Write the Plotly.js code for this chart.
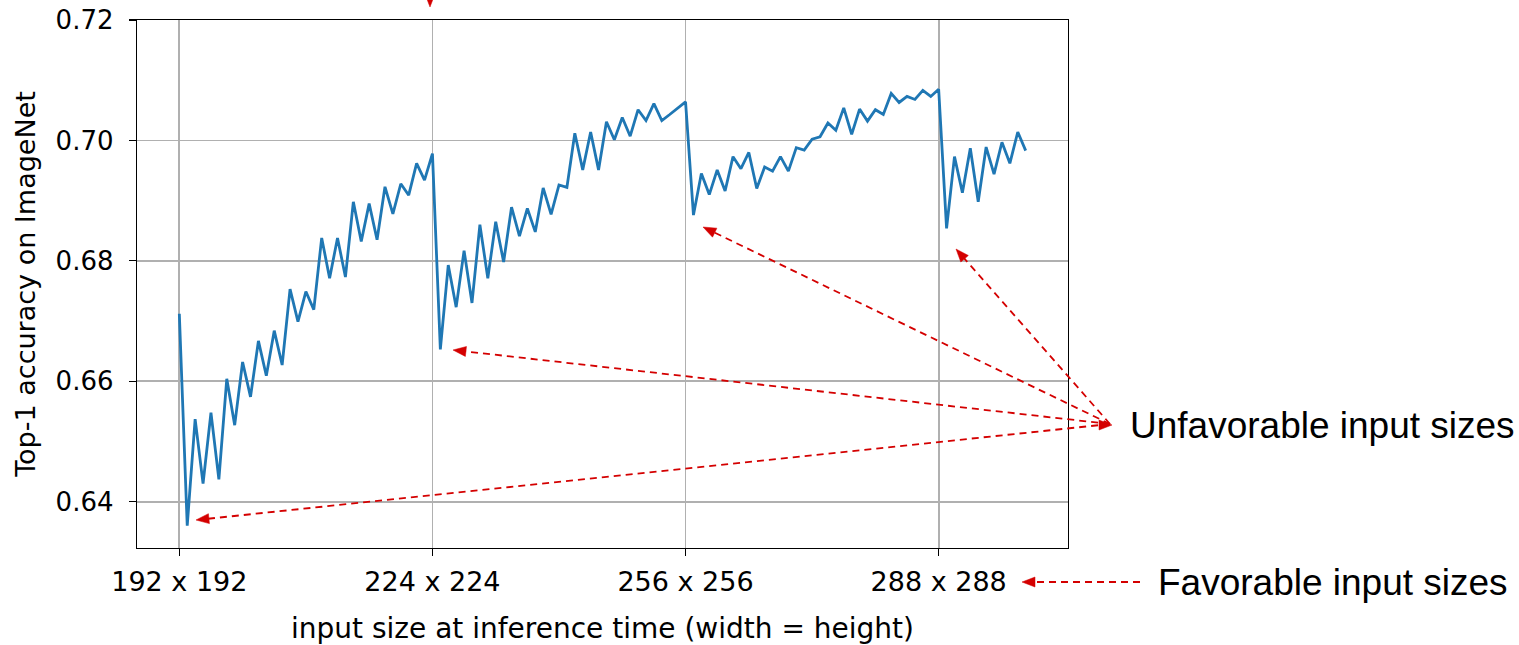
<!DOCTYPE html>
<html>
<head>
<meta charset="utf-8">
<script src="https://cdn.plot.ly/plotly-3.0.1.min.js"></script>
<style>html,body{margin:0;padding:0;background:#fff;}#chart{width:1519px;height:645px;}</style>
</head>
<body>
<div id="chart"></div>
<script>
const inputSizes = [192,193,194,195,196,197,198,199,200,201,202,203,204,205,206,207,208,209,210,211,212,213,214,215,216,217,218,219,220,221,222,223,
224,225,226,227,228,229,230,231,232,233,234,235,236,237,238,239,240,241,242,243,244,245,246,247,248,249,250,251,252,253,254,255,
256,257,258,259,260,261,262,263,264,265,266,267,268,269,270,271,272,273,274,275,276,277,278,279,280,281,282,283,284,285,286,287,
288,289,290,291,292,293,294,295,296,297,298,299];
const top1Accuracy = [0.6712,0.6360,0.6537,0.6430,0.6548,0.6437,0.6604,0.6527,0.6632,0.6574,0.6667,0.6609,0.6684,0.6627,0.6753,0.6699,0.6749,0.6719,0.6838,0.6771,0.6838,0.6773,0.6898,0.6832,0.6895,0.6835,0.6923,0.6878,0.6928,0.6909,0.6962,0.6934,
0.6978,0.6653,0.6793,0.6723,0.6817,0.6730,0.6860,0.6771,0.6865,0.6798,0.6889,0.6841,0.6887,0.6848,0.6921,0.6877,0.6926,0.6922,0.7012,0.6951,0.7014,0.6951,0.7031,0.7001,0.7038,0.7007,0.7051,0.7033,0.7061,0.7033,0.7043,0.7053,
0.7064,0.6876,0.6945,0.6910,0.6951,0.6916,0.6973,0.6953,0.6980,0.6920,0.6956,0.6949,0.6973,0.6949,0.6988,0.6984,0.7002,0.7006,0.7029,0.7017,0.7054,0.7010,0.7052,0.7032,0.7051,0.7043,0.7078,0.7063,0.7073,0.7068,0.7083,0.7073,
0.7085,0.6854,0.6973,0.6913,0.6987,0.6898,0.6989,0.6944,0.6997,0.6962,0.7014,0.6983];
const xTickVals = [192, 224, 256, 288];
const xTickText = ['192 x 192', '224 x 224', '256 x 256', '288 x 288'];
const yTickVals = [0.64, 0.66, 0.68, 0.70, 0.72];
const yTickText = ['0.64', '0.66', '0.68', '0.70', '0.72'];
const unfavorableLabel = 'Unfavorable input sizes';
const favorableLabel = 'Favorable input sizes';

// layout geometry (pixels)
const W = 1519, H = 645, L = 137, R = 1068, T = 20, B = 548;
const pw = R - L, ph = B - T;
const px = x => (x - L) / pw;
const py = y => (B - y) / ph;
const RED = '#d40000';

const shapes = [];
function dashed(x0, y0, x1, y1) {
  shapes.push({type: 'line', xref: 'paper', yref: 'paper', x0: px(x0), y0: py(y0), x1: px(x1), y1: py(y1),
    line: {color: RED, width: 1.8, dash: '7px,5px'}});
}
function head(tx, ty, fx, fy) {
  const dx = tx - fx, dy = ty - fy, len = Math.hypot(dx, dy);
  const ux = dx / len, uy = dy / len;
  const hl = 13, hw = 5;
  const bx = tx - ux * hl, by = ty - uy * hl;
  const p1 = [bx - uy * hw, by + ux * hw], p2 = [bx + uy * hw, by - ux * hw];
  shapes.push({type: 'path', xref: 'paper', yref: 'paper',
    path: `M ${px(tx)} ${py(ty)} L ${px(p1[0])} ${py(p1[1])} L ${px(p2[0])} ${py(p2[1])} Z`,
    fillcolor: RED, line: {color: RED, width: 0.5}});
}
function arrow(fx, fy, tx, ty) {
  const dx = tx - fx, dy = ty - fy, len = Math.hypot(dx, dy);
  dashed(fx, fy, tx - dx / len * 10, ty - dy / len * 10);
  head(tx, ty, fx, fy);
}
// unfavorable arrows
const hub = [1110, 424];
arrow(hub[0], hub[1], 196, 520);
arrow(hub[0], hub[1], 453, 350);
arrow(hub[0], hub[1], 703, 227);
arrow(hub[0], hub[1], 956, 249);
head(1112, 425, 1000, 425);
// favorable arrow
arrow(1140, 582, 1022, 582);
// arrow at top (cut off)
head(430, 7, 430, -40);

const trace = {
  x: inputSizes, y: top1Accuracy, type: 'scatter', mode: 'lines',
  line: {color: '#1f77b4', width: 2.8}, hoverinfo: 'x+y'
};

const axisCommon = {
  showline: true, mirror: true, linecolor: '#000', linewidth: 1.3,
  ticks: 'outside', ticklen: 7, tickwidth: 1.3, tickcolor: '#000',
  showgrid: true, gridcolor: '#b0b0b0', gridwidth: 1.8, zeroline: false,
  tickfont: {family: 'DejaVu Sans', size: 26, color: '#000'}
};

const layout = {
  width: W, height: H,
  margin: {l: L, r: W - R, t: T, b: H - B, pad: 0},
  paper_bgcolor: '#fff', plot_bgcolor: '#fff',
  showlegend: false,
  xaxis: Object.assign({}, axisCommon, {
    range: [186.65, 304.35], tickmode: 'array', tickvals: xTickVals, ticktext: xTickText,
    automargin: false, ticklabelstandoff: 2,
    tickfont: {family: 'DejaVu Sans', size: 27, color: '#000'},
    title: {text: 'input size at inference time (width = height)', font: {family: 'DejaVu Sans', size: 28, color: '#000'}, standoff: 26}
  }),
  yaxis: Object.assign({}, axisCommon, {
    range: [0.6323, 0.72], tickmode: 'array', tickvals: yTickVals, ticktext: yTickText,
    automargin: false, ticklabelstandoff: 10,
    title: {text: 'Top-1 accuracy on ImageNet', font: {family: 'DejaVu Sans', size: 27, color: '#000'}, standoff: 12}
  }),
  shapes: shapes,
  annotations: [
    {xref: 'paper', yref: 'paper', x: px(1128), y: py(425), xanchor: 'left', yanchor: 'middle',
     text: unfavorableLabel, showarrow: false, font: {family: 'Liberation Sans, Arial', size: 37, color: '#000'}},
    {xref: 'paper', yref: 'paper', x: px(1156), y: py(582), xanchor: 'left', yanchor: 'middle',
     text: favorableLabel, showarrow: false, font: {family: 'Liberation Sans, Arial', size: 37, color: '#000'}}
  ]
};

Plotly.newPlot('chart', [trace], layout, {displayModeBar: false, staticPlot: true});
</script>
</body>
</html>
